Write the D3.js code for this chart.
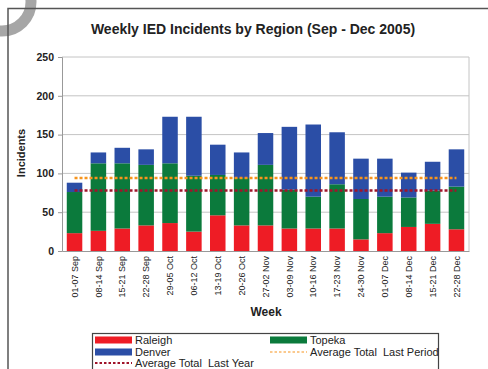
<!DOCTYPE html>
<html>
<head>
<meta charset="utf-8">
<script src="https://cdn.jsdelivr.net/npm/d3@7"></script>
<style>
  body { margin: 0; background: #fff; }
  text { font-family: "Liberation Sans", Arial, sans-serif; }
</style>
</head>
<body>
<svg id="chart" width="488" height="369"></svg>
<script>
// Weekly incidents per region
var weeks = ["01-07 Sep", "08-14 Sep", "15-21 Sep", "22-28 Sep", "29-05 Oct", "06-12 Oct", "13-19 Oct",
    "20-26 Oct", "27-02 Nov", "03-09 Nov", "10-16 Nov", "17-23 Nov", "24-30 Nov", "01-07 Dec",
    "08-14 Dec", "15-21 Dec", "22-28 Dec"];
var raleigh = [23, 26, 29, 33, 36, 25, 46, 33, 33, 29, 29, 29, 15, 23, 31, 35, 28];
var topeka  = [53, 87, 84, 78, 77, 72, 52, 61, 78, 50, 41, 57, 52, 47, 38, 43, 55];
var denver  = [12, 14, 20, 20, 60, 76, 39, 33, 41, 81, 93, 67, 52, 49, 32, 37, 48];
var avgLastPeriod = [94, 94, 94, 94, 94, 94, 94, 94, 94, 94, 94, 94, 94, 94, 94, 94, 94];
var avgLastYear   = [78, 78, 78, 78, 78, 78, 78, 78, 78, 78, 78, 78, 78, 78, 78, 78, 78];
var yTicks = [0, 50, 100, 150, 200, 250];

var svg = d3.select("#chart");
var left = 62, right = 469, top_y = 57, bottom_y = 251;

// scanned-page decoration + outer frame
svg.append("circle")
    .attr("cx", 2).attr("cy", 2).attr("r", 29)
    .attr("fill", "none").attr("stroke", "#a6a6a6").attr("stroke-width", 11);
svg.append("path")
    .attr("d", "M8,369 V8.5 H488")
    .attr("fill", "none").attr("stroke", "#555").attr("stroke-width", 1.5);

svg.append("text")
    .attr("x", 253).attr("y", 34)
    .attr("text-anchor", "middle")
    .attr("font-size", 14).attr("font-weight", "bold").attr("fill", "#222")
    .text("Weekly IED Incidents by Region (Sep - Dec 2005)");

var x = d3.scaleBand().domain(weeks).range([left, right]).paddingInner(0.35).paddingOuter(0.2);
var y = d3.scaleLinear().domain([0, 250]).range([bottom_y, top_y]);

// gridlines
svg.append("g").selectAll("line")
    .data(yTicks.filter(d => d > 0))
    .enter().append("line")
    .attr("x1", left).attr("x2", right)
    .attr("y1", d => y(d)).attr("y2", d => y(d))
    .attr("stroke", "#c4c4c4").attr("stroke-width", 1);
svg.append("line")
    .attr("x1", right).attr("x2", right).attr("y1", top_y).attr("y2", bottom_y)
    .attr("stroke", "#c4c4c4");

// stacked bars
var rows = weeks.map((w, i) => ({ week: w, Raleigh: raleigh[i], Topeka: topeka[i], Denver: denver[i] }));
var stack = d3.stack().keys(["Raleigh", "Topeka", "Denver"])(rows);
var colors = { Raleigh: "#ee1c25", Topeka: "#0b7a3c", Denver: "#2b4ea6" };

svg.append("g").selectAll("g")
    .data(stack)
    .enter().append("g")
    .attr("fill", d => colors[d.key])
    .selectAll("rect")
    .data(d => d)
    .enter().append("rect")
    .attr("x", d => x(d.data.week))
    .attr("y", d => y(d[1]))
    .attr("width", x.bandwidth())
    .attr("height", d => y(d[0]) - y(d[1]));

// average lines
var line = d3.line()
    .x((d, i) => x(weeks[i]) + x.bandwidth() / 2)
    .y(d => y(d));
svg.append("path")
    .datum(avgLastPeriod)
    .attr("d", line)
    .attr("fill", "none").attr("stroke", "#f7941d")
    .attr("stroke-width", 2.5).attr("stroke-dasharray", "3,2");
svg.append("path")
    .datum(avgLastYear)
    .attr("d", line)
    .attr("fill", "none").attr("stroke", "#a0142a")
    .attr("stroke-width", 2.5).attr("stroke-dasharray", "3,2");

// y axis
var yAxis = svg.append("g")
    .attr("transform", "translate(" + left + ",0)")
    .call(d3.axisLeft(y).tickValues(yTicks).tickSize(4).tickPadding(4));
yAxis.select(".domain").attr("stroke", "#999");
yAxis.selectAll(".tick line").attr("stroke", "#999");
yAxis.selectAll("text")
    .attr("font-size", 10.5).attr("font-weight", "bold").attr("fill", "#222")
    .style("font-family", "Liberation Sans, Arial, sans-serif");

// x axis
var xAxis = svg.append("g")
    .attr("transform", "translate(0," + bottom_y + ")")
    .call(d3.axisBottom(x).tickSize(0).tickPadding(0));
xAxis.select(".domain").attr("stroke", "#999");
xAxis.selectAll("text")
    .attr("transform", "rotate(-90)")
    .attr("x", -5).attr("y", 0).attr("dy", "0.35em")
    .style("text-anchor", "end")
    .attr("font-size", 9).attr("fill", "#222")
    .style("font-family", "Liberation Sans, Arial, sans-serif");

// axis titles
svg.append("text")
    .attr("transform", "translate(25,153) rotate(-90)")
    .attr("text-anchor", "middle")
    .attr("font-size", 11).attr("font-weight", "bold").attr("fill", "#222")
    .text("Incidents");
svg.append("text")
    .attr("x", 266).attr("y", 316)
    .attr("text-anchor", "middle")
    .attr("font-size", 12).attr("font-weight", "bold").attr("fill", "#222")
    .text("Week");

// legend
svg.append("rect")
    .attr("x", 92.5).attr("y", 333.5).attr("width", 346).attr("height", 50)
    .attr("fill", "#fff").attr("stroke", "#444").attr("stroke-width", 1.2);

var legendItems = [
    { label: "Raleigh", kind: "box", color: colors.Raleigh, x: 95, y: 340 },
    { label: "Topeka", kind: "box", color: colors.Topeka, x: 270, y: 340 },
    { label: "Denver", kind: "box", color: colors.Denver, x: 95, y: 352 },
    { label: "Average Total  Last Period", kind: "line", color: "#f7941d", x: 270, y: 352, width: 1.2 },
    { label: "Average Total  Last Year", kind: "line", color: "#a0142a", x: 95, y: 363, width: 2.2 }
];
var legend = svg.append("g");
legendItems.forEach(d => {
    if (d.kind === "box") {
        legend.append("rect")
            .attr("x", d.x).attr("y", d.y - 3.5).attr("width", 37).attr("height", 7)
            .attr("fill", d.color);
    } else {
        legend.append("line")
            .attr("x1", d.x).attr("x2", d.x + 37).attr("y1", d.y).attr("y2", d.y)
            .attr("stroke", d.color).attr("stroke-width", d.width)
            .attr("stroke-dasharray", "2.5,2");
    }
    legend.append("text")
        .attr("x", d.x + 40).attr("y", d.y + 4)
        .attr("font-size", 11).attr("fill", "#222")
        .style("white-space", "pre")
        .text(d.label);
});
</script>
</body>
</html>
